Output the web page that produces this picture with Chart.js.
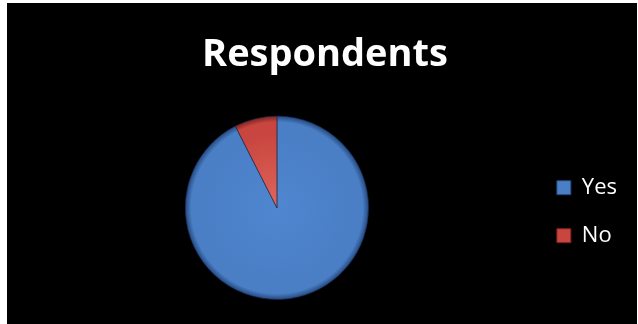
<!DOCTYPE html>
<html>
<head>
<meta charset="utf-8">
<script src="https://cdn.jsdelivr.net/npm/chart.js@4"></script>
<style>
  html, body { margin: 0; padding: 0; background: #fff; }
  #wrap { position: absolute; left: 7px; top: 3px; width: 630px; height: 321px; background: #000; }
</style>
</head>
<body>
<div id="wrap"><canvas id="respChart"></canvas></div>
<script>
const labels = ['Yes', 'No']
const respondents = [37, 3]
const baseColors = ['#4a7fc6', '#c8463f']
const edgeColors = ['#22457a', '#7a201c']
const centerColors = ['#4f86cf', '#e0665a']

// radial shading so the slices look a bit rounded
function shade(ctx){
    const chart = ctx.chart
    const area = chart.chartArea
    const i = ctx.dataIndex
    if (!area) return baseColors[i]
    const cx = (area.left + area.right) / 2
    const cy = (area.top + area.bottom) / 2
    const r = Math.min(area.right - area.left, area.bottom - area.top) / 2
    const g = chart.ctx.createRadialGradient(cx, cy, 0, cx, cy, r)
    g.addColorStop(0, centerColors[i])
    g.addColorStop(0.8, baseColors[i])
    g.addColorStop(0.93, baseColors[i])
    g.addColorStop(1, edgeColors[i])
    return g
}

const data_resp = {
    labels: labels,
    datasets: [{
        data: respondents,
        backgroundColor: shade,
        borderColor: 'rgba(20,40,80,0.6)',
        borderWidth: 1
    }]
}

const options_resp = {
    responsive: true,
    maintainAspectRatio: false,
    animation: false,
    layout: { padding: { top: 0, left: 16, right: 10, bottom: 24 } },
    plugins: {
        title: {
            display: true,
            text: 'Respondents',
            color: '#fff',
            font: { family: 'Open Sans', size: 38, weight: 'bold' },
            padding: { top: 29, bottom: 38 }
        },
        legend: {
            position: 'right',
            maxWidth: 98,
            title: {
                display: true,
                text: ' ',
                font: { size: 12 },
                padding: 53
            },
            labels: {
                color: '#fff',
                font: { family: 'Open Sans', size: 22 },
                boxWidth: 14,
                boxHeight: 14,
                padding: 26,
                generateLabels: (chart) => labels.map((l, i) => ({
                    text: l,
                    fillStyle: baseColors[i],
                    strokeStyle: edgeColors[i],
                    lineWidth: 1,
                    fontColor: '#fff',
                    index: i
                }))
            }
        },
        tooltip: { enabled: false }
    }
}

new Chart(document.getElementById('respChart'), {
    type: 'pie',
    data: data_resp,
    options: options_resp
})
</script>
</body>
</html>
